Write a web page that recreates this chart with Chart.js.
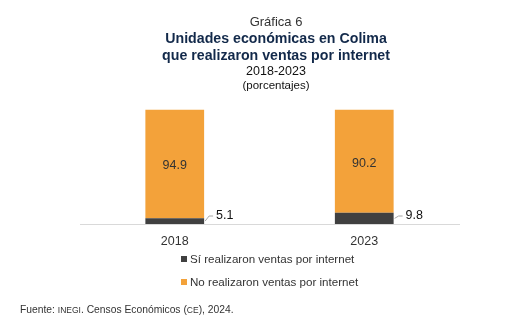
<!DOCTYPE html>
<html>
<head>
<meta charset="utf-8">
<script src="https://cdn.jsdelivr.net/npm/chart.js@4/dist/chart.umd.min.js"></script>
<style>
  html, body { margin: 0; padding: 0; background: #fff; }
  body { width: 522px; height: 323px; position: relative; overflow: hidden; font-family: "Liberation Sans", Arial, sans-serif; color: #333; }
  #c { position: absolute; left: 0; top: 0; }
  .t { position: absolute; left: 0; width: 552px; text-align: center; white-space: nowrap; }
  #g { top: 14px; font-size: 13px; color: #333; }
  #h { top: 30px; font-size: 14.2px; font-weight: bold; color: #12294a; line-height: 17px; }
  #y { top: 64px; font-size: 12.5px; color: #111; }
  #p { top: 79px; font-size: 11.5px; color: #111; }
  #leg { position: absolute; left: 181px; top: 251px; font-size: 11.6px; color: #333; }
  #leg div { height: 23px; line-height: 16px; white-space: nowrap; }
  #leg span.b { display: inline-block; width: 6px; height: 6px; margin-right: 3px; vertical-align: 1px; }
  #src { position: absolute; left: 20px; top: 304px; font-size: 10.3px; color: #333; white-space: nowrap; }
  #src small { font-size: 8.5px; }
</style>
</head>
<body>
<canvas id="c" width="522" height="323"></canvas>
<div class="t" id="g">Gráfica 6</div>
<div class="t" id="h">Unidades económicas en Colima<br>que realizaron ventas por internet</div>
<div class="t" id="y">2018-2023</div>
<div class="t" id="p">(porcentajes)</div>
<div id="leg"></div>
<div id="src">Fuente: <small>INEGI</small>. Censos Económicos (<small>CE</small>), 2024.</div>
<script>
const categories = ["2018", "2023"];
const seriesNames = ["Sí realizaron ventas por internet", "No realizaron ventas por internet"];
const siValues = [5.1, 9.8];
const noValues = [94.9, 90.2];
const seriesColors = ["#404040", "#F3A23A"];

// HTML legend
const leg = document.getElementById('leg');
seriesNames.forEach((n, i) => {
  const d = document.createElement('div');
  const b = document.createElement('span');
  b.className = 'b';
  b.style.background = seriesColors[i];
  d.appendChild(b);
  d.appendChild(document.createTextNode(n));
  leg.appendChild(d);
});

const labelPlugin = {
  id: 'labels',
  afterDatasetsDraw(chart) {
    const ctx = chart.ctx;
    ctx.save();
    ctx.font = '12.5px "Liberation Sans", Arial, sans-serif';
    ctx.fillStyle = '#333';
    const metaNo = chart.getDatasetMeta(1);
    metaNo.data.forEach((el, i) => {
      ctx.textAlign = 'center';
      ctx.textBaseline = 'middle';
      ctx.fillText(noValues[i].toFixed(1), el.x, (el.y + el.base) / 2 + 2);
    });
    const metaSi = chart.getDatasetMeta(0);
    metaSi.data.forEach((el, i) => {
      const right = el.x + el.width / 2;
      const midY = (el.y + el.base) / 2;
      const ly = el.base - 8;
      ctx.strokeStyle = '#a6a6a6';
      ctx.lineWidth = 1;
      ctx.beginPath();
      ctx.moveTo(right + 1, midY);
      ctx.lineTo(right + 5, ly);
      ctx.lineTo(right + 9, ly);
      ctx.stroke();
      ctx.textAlign = 'left';
      ctx.textBaseline = 'middle';
      ctx.fillStyle = '#111';
      ctx.fillText(siValues[i].toFixed(1), right + 12, ly);
    });
    ctx.restore();
  }
};

new Chart(document.getElementById('c'), {
  type: 'bar',
  data: {
    labels: categories,
    datasets: [
      { label: seriesNames[0], data: siValues, backgroundColor: seriesColors[0], barPercentage: 0.62, categoryPercentage: 0.5 },
      { label: seriesNames[1], data: noValues, backgroundColor: seriesColors[1], barPercentage: 0.62, categoryPercentage: 0.5 }
    ]
  },
  options: {
    responsive: false,
    animation: false,
    devicePixelRatio: 1,
    layout: { padding: { left: 80, right: 63, top: 109.5, bottom: 64 } },
    plugins: { legend: { display: false }, tooltip: { enabled: false }, title: { display: false } },
    scales: {
      x: {
        stacked: true,
        grid: { display: false },
        border: { display: true, color: '#d9d9d9', width: 1 },
        ticks: { color: '#333', font: { size: 12.5, family: '"Liberation Sans", Arial, sans-serif' }, padding: 2 },
        afterFit(scale) { scale.height = 35; }
      },
      y: {
        stacked: true,
        display: false,
        min: 0,
        max: 100
      }
    }
  },
  plugins: [labelPlugin]
});
</script>
</body>
</html>
